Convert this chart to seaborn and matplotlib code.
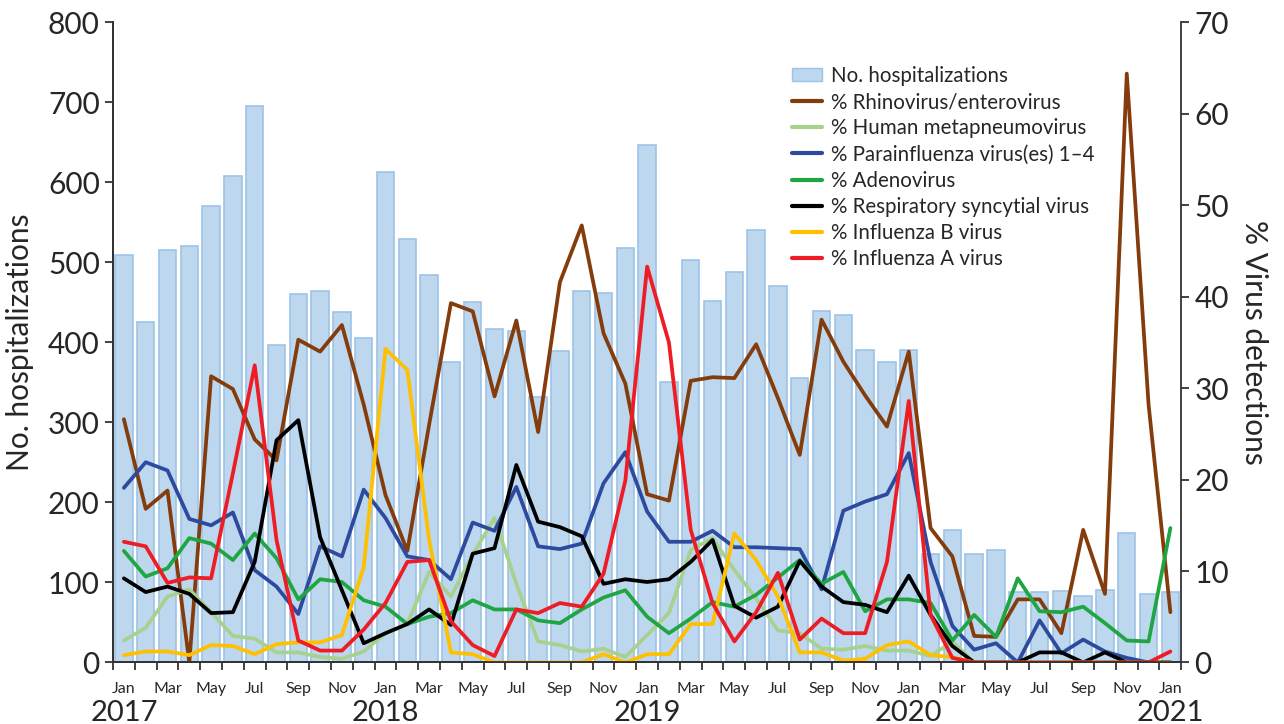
import numpy as np
import pandas as pd
import seaborn as sns
import matplotlib.pyplot as plt
from matplotlib.patches import Patch
from matplotlib.lines import Line2D
from matplotlib import transforms

# Monthly data, Jan 2017 - Jan 2021
month_names = ["Jan", "Feb", "Mar", "Apr", "May", "Jun",
               "Jul", "Aug", "Sep", "Oct", "Nov", "Dec"]
years = [2017, 2018, 2019, 2020, 2021]
months = [f"{y}-{m:02d}" for y in years[:-1] for m in range(1, 13)] + ["2021-01"]

hospitalizations = [509, 425, 515, 521, 571, 608, 696, 397, 461, 464, 438, 405,
                    613, 529, 484, 375, 451, 417, 414, 332, 389, 464, 462, 518,
                    647, 351, 503, 452, 488, 540, 471, 355, 439, 434, 390, 375,
                    391, 136, 166, 136, 141, 88, 88, 89, 83, 91, 162, 85,
                    88]

rhino = [26.6, 16.8, 18.8, 0.0, 31.3, 29.9, 24.4, 22.1, 35.3, 34.0, 36.9, 28.2,
         18.3, 12.2, 26.0, 39.3, 38.4, 29.1, 37.4, 25.2, 41.6, 47.8, 36.0, 30.5,
         18.4, 17.7, 30.8, 31.2, 31.1, 34.8, 28.9, 22.7, 37.5, 32.9, 29.2, 25.8,
         34.0, 14.7, 11.6, 2.9, 2.8, 6.9, 6.9, 3.2, 14.5, 7.5, 64.4, 28.2, 5.5]

hmpv = [2.4, 3.8, 7.2, 8.0, 5.5, 2.9, 2.6, 1.1, 1.1, 0.6, 0.4, 1.2,
        3.2, 4.2, 9.9, 7.2, 11.8, 15.8, 8.6, 2.3, 1.9, 1.2, 1.5, 0.6,
        3.0, 5.4, 12.3, 13.6, 10.1, 7.0, 3.5, 3.2, 1.5, 1.4, 1.8, 1.3,
        1.3, 0.7, 2.3, 0, 0, 0, 0, 0, 0, 0, 0, 0, 0]

para = [19.1, 21.9, 21.0, 15.7, 15.0, 16.4, 10.1, 8.3, 5.3, 12.7, 11.6, 18.9,
        15.8, 11.6, 11.2, 9.1, 15.3, 14.4, 19.2, 12.7, 12.4, 13.0, 19.6, 23.0,
        16.5, 13.2, 13.2, 14.4, 12.6, 12.6, 12.5, 12.4, 8.0, 16.6, 17.6, 18.4,
        22.9, 11.0, 4.0, 1.4, 2.1, 0.0, 4.6, 1.0, 2.5, 1.2, 0.5, 0.0, 0.0]

adeno = [12.2, 9.4, 10.3, 13.6, 13.0, 11.2, 14.1, 11.4, 6.9, 9.1, 8.8, 6.8,
         6.1, 4.2, 5.0, 5.4, 6.8, 5.8, 5.8, 4.6, 4.3, 5.8, 7.1, 7.9,
         5.0, 3.2, 4.8, 6.6, 6.1, 7.4, 9.3, 11.2, 8.6, 9.9, 5.6, 6.9,
         6.9, 6.5, 2.4, 5.2, 2.8, 9.2, 5.6, 5.5, 6.1, 4.3, 2.4, 2.3, 14.7]

rsv = [9.2, 7.7, 8.3, 7.5, 5.4, 5.5, 11.0, 24.3, 26.5, 13.7, 7.9, 2.1,
       3.2, 4.2, 5.8, 4.1, 11.9, 12.5, 21.6, 15.4, 14.8, 13.8, 8.6, 9.1,
       8.8, 9.1, 11.0, 13.4, 6.2, 4.9, 6.1, 11.1, 8.3, 6.6, 6.3, 5.5,
       9.5, 5.2, 1.8, 0, 0, 0, 1.1, 1.1, 0, 1.1, 0, 0, 0]

flu_b = [0.8, 1.2, 1.2, 0.8, 1.9, 1.8, 0.9, 2.0, 2.2, 2.2, 3.0, 10.4,
         34.3, 32.0, 13.4, 1.1, 0.9, 0, 0, 0, 0, 0, 0.9, 0,
         0.9, 0.9, 4.2, 4.2, 14.1, 11.2, 7.2, 1.1, 1.1, 0.2, 0.4, 1.9,
         2.3, 0.8, 0.6, 0, 0, 0, 0, 0, 0, 0, 0, 0, 0]

flu_a = [13.2, 12.7, 8.7, 9.3, 9.2, 20.7, 32.5, 13.4, 2.4, 1.3, 1.3, 3.6,
         6.5, 11.0, 11.2, 4.5, 1.9, 0.7, 5.8, 5.4, 6.5, 6.1, 9.7, 19.9,
         43.3, 35.0, 14.5, 6.5, 2.3, 5.5, 9.8, 2.5, 4.8, 3.2, 3.2, 11.0,
         28.6, 5.2, 0.5, 0, 0, 0, 0, 0, 0, 0, 0, 0, 1.2]

series_names = ["% Rhinovirus/enterovirus", "% Human metapneumovirus",
                "% Parainfluenza virus(es) 1\u20134", "% Adenovirus",
                "% Respiratory syncytial virus", "% Influenza B virus",
                "% Influenza A virus"]
series_values = [rhino, hmpv, para, adeno, rsv, flu_b, flu_a]
series_colors = ["#843C0C", "#A9D18E", "#2E4A9E", "#1FA642",
                 "#000000", "#FFC000", "#EE1C25"]

# ==========================
# Style
# ==========================
sns.set_style("ticks")
plt.rcParams["font.family"] = ["Lato", "DejaVu Sans"]

fig = plt.figure(figsize=(12.84, 7.24), dpi=100)
ax = fig.add_axes([0.088, 0.085, 0.832, 0.884])

bars_df = pd.DataFrame({"month": months, "hosp": hospitalizations})
sns.barplot(data=bars_df, x="month", y="hosp", order=months,
            color="#BDD7EE", edgecolor="#9DC3E6", linewidth=1.2,
            width=0.8, saturation=1, ax=ax)

ax2 = ax.twinx()
idx = np.arange(len(months))
for name, vals, col in zip(series_names, series_values, series_colors):
    line_df = pd.DataFrame({"x": idx, "pct": vals})
    sns.lineplot(data=line_df, x="x", y="pct", color=col, linewidth=2.7,
                 ax=ax2, legend=False)

# ==========================
# Axes
# ==========================
ax.set_xlim(-0.5, len(months) - 0.5)
ax2.set_xlim(-0.5, len(months) - 0.5)
ax.set_ylim(0, 800)
ax2.set_ylim(0, 70)
ax.set_yticks(range(0, 801, 100))
ax2.set_yticks(range(0, 71, 10))

# labels at month centres, tick marks between months
ax.set_xticks(idx)
ax.set_xticklabels([month_names[i % 12] if i % 2 == 0 else "" for i in idx],
                   fontsize=11.5)
ax.set_xticks(np.arange(-0.5, len(months), 1), minor=True)
ax.tick_params(axis="x", which="major", length=0, pad=14)
ax.tick_params(axis="x", which="minor", length=6, width=1.3, color="#333333")
ax.tick_params(axis="y", labelsize=21.5, length=6, width=1.3, color="#333333")
ax2.tick_params(axis="y", labelsize=21.5, length=6, width=1.3, color="#333333")

ax.set_xlabel("")
ax.set_ylabel("No. hospitalizations", fontsize=21.5, labelpad=10)
ax2.set_ylabel("% Virus detections", fontsize=21.5, rotation=270, labelpad=28)
ax2.set_xlabel("")

for a in (ax, ax2):
    a.spines["top"].set_visible(False)
    for s in ("left", "right", "bottom"):
        a.spines[s].set_color("#333333")
        a.spines[s].set_linewidth(1.3)
ax.spines["right"].set_visible(False)

# year labels under each January
trans = transforms.blended_transform_factory(ax.transData, ax.transAxes)
for k, yr in enumerate(years):
    ax.text(k * 12, -0.058, str(yr), transform=trans, ha="center", va="top",
            fontsize=21)

# ==========================
# Legend
# ==========================
handles = [Patch(facecolor="#BDD7EE", edgecolor="#9DC3E6",
                 label="No. hospitalizations")]
handles += [Line2D([0], [0], color=c, linewidth=3, label=n)
            for n, c in zip(series_names, series_colors)]
ax2.legend(handles=handles, loc="upper left", bbox_to_anchor=(0.628, 0.945),
           frameon=False, fontsize=14.8, handlelength=1.45, handleheight=0.6,
           labelspacing=0.3, handletextpad=0.45, borderaxespad=0)

fig.savefig("out.png", dpi=100)
plt.close()
